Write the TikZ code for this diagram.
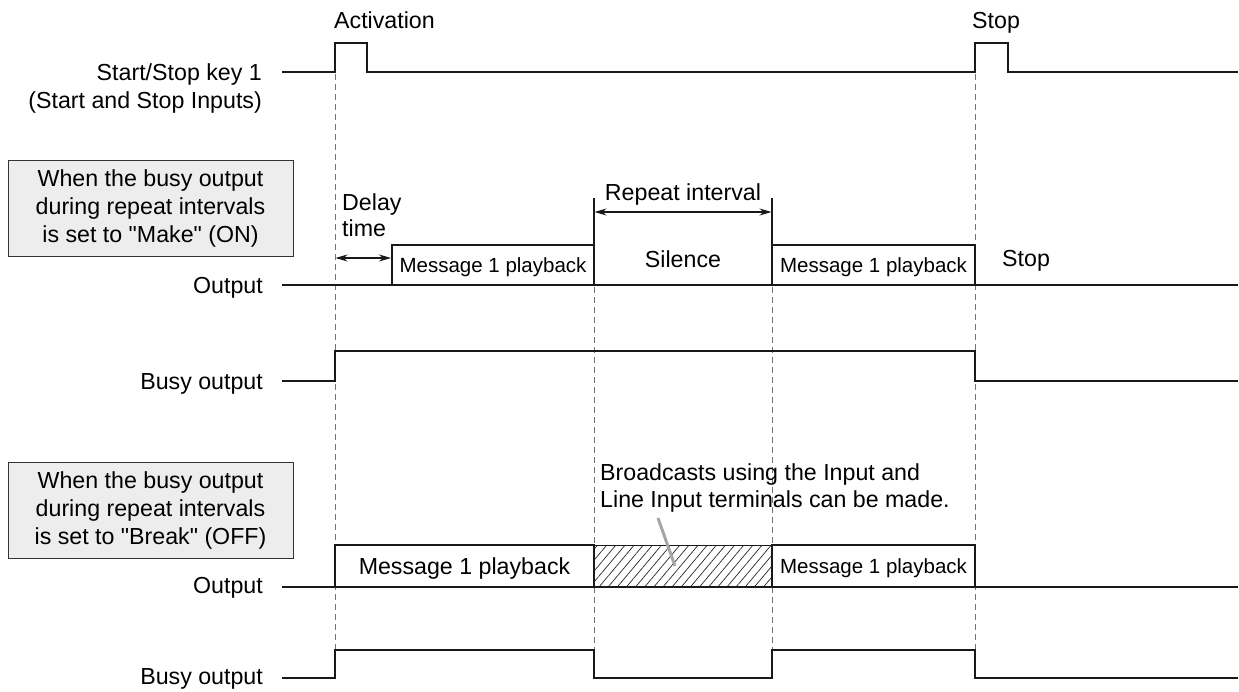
\documentclass[tikz,border=0pt]{standalone}
\usepackage{fontspec}
\setmainfont{Liberation Sans}
\usetikzlibrary{patterns.meta,arrows.meta}
\tikzstyle{wave}=[draw=black!90,line width=1.6pt,line join=miter]
\tikzstyle{guide}=[draw=black!55,line width=1pt,dash pattern=on 6pt off 4pt]
\tikzstyle{lbl}=[anchor=base east,inner sep=0pt,font=\fontsize{23.2}{28}\selectfont]
\tikzstyle{txt}=[anchor=base west,inner sep=0pt,font=\fontsize{23.2}{28}\selectfont]
\tikzstyle{mode}=[draw=black!80,fill=black!7,line width=1pt,minimum width=285pt,minimum height=96pt,align=center,inner sep=0pt,font=\fontsize{23.2}{28}\selectfont]
\tikzstyle{msg}=[inner sep=0pt,font=\fontsize{20.5}{24}\selectfont]
\tikzstyle{dim}=[draw=black!90,line width=1.2pt,{Stealth[length=12pt,width=7pt]}-{Stealth[length=12pt,width=7pt]}]

\begin{document}
\begin{tikzpicture}[x=1pt,y=-1pt]
	\useasboundingbox (0,0) rectangle (1239,691);
	% guide lines
	\draw[guide] (335,74)--(335,650);
	\draw[guide] (975,74)--(975,650);
	\draw[guide] (594,287)--(594,650);
	\draw[guide] (772,287)--(772,650);
	\draw[draw=black!90,line width=1.2pt] (594,198)--(594,245);
	\draw[draw=black!90,line width=1.2pt] (772,198)--(772,245);
	% start/stop key
	\node[txt] (act) at (334,28) {Activation};
	\node[txt] (stp) at (972,28) {Stop};
	\node[lbl] (key) at (262,80) {Start/Stop key 1};
	\node[lbl] (keyb) at (262,108) {(Start and Stop Inputs)};
	\draw[wave] (282,72)--(335,72)--(335,43)--(367,43)--(367,72)--(975,72)--(975,43)--(1008,43)--(1008,72)--(1238,72);
	% make (on)
	\node[mode] (make) at (150.5,208.5) {When the busy output\\during repeat intervals\\is set to \textquotedbl Make\textquotedbl{} (ON)};
	\node[txt] (dly) at (342,210) {Delay};
	\node[txt] (dlyb) at (342,236) {time};
	\coordinate (d1) at (335.5,258);
	\coordinate (d2) at (391,258);
	\draw[dim] (d1)--(d2);
	\node[anchor=base,inner sep=0pt,font=\fontsize{23.2}{28}\selectfont] (rep) at (683,200) {Repeat interval};
	\coordinate (r1) at (594.5,212);
	\coordinate (r2) at (771.5,212);
	\draw[dim] (r1)--(r2);
	\node[anchor=base,inner sep=0pt,font=\fontsize{23.2}{28}\selectfont] (sil) at (683,267) {Silence};
	\node[txt] (stpb) at (1002,266) {Stop};
	\node[lbl] (out) at (263,293) {Output};
	\draw[wave] (282,285)--(1238,285);
	\draw[wave] (392,285) rectangle (594,245);
	\draw[wave] (772,285) rectangle (975,245);
	\node[msg] (m1) at (493,267) {Message 1 playback};
	\node[msg] (m2) at (873.5,267) {Message 1 playback};
	\node[lbl] (busy) at (263,389) {Busy output};
	\draw[wave] (282,381)--(335,381)--(335,351)--(975,351)--(975,381)--(1238,381);
	% break (off)
	\node[mode] (brk) at (150.5,510) {When the busy output\\during repeat intervals\\is set to \textquotedbl Break\textquotedbl{} (OFF)};
	\node[txt] (bc) at (600,480) {Broadcasts using the Input and};
	\node[txt] (bcb) at (600,507) {Line Input terminals can be made.};
	\fill[pattern={Lines[angle=50,distance=7pt,line width=0.7pt]},pattern color=black!85] (594,545) rectangle (772,587);
	\draw[draw=black!90,line width=1pt] (594,545)--(772,545);
	\coordinate (p1) at (658,518);
	\coordinate (p2) at (675,566);
	\draw[draw=black!35,line width=3pt] (p1)--(p2);
	\node[lbl] (outb) at (263,593) {Output};
	\draw[wave] (282,587)--(1238,587);
	\draw[wave] (335,587) rectangle (594,545);
	\draw[wave] (772,587) rectangle (975,545);
	\node[anchor=center,inner sep=0pt,font=\fontsize{23.2}{27}\selectfont] (m3) at (464.5,568) {Message 1 playback};
	\node[msg] (m4) at (873.5,568) {Message 1 playback};
	\node[lbl] (busyb) at (263,684) {Busy output};
	\draw[wave] (282,678)--(335,678)--(335,650)--(594,650)--(594,678)--(772,678)--(772,650)--(975,650)--(975,678)--(1238,678);
\end{tikzpicture}
\end{document}
